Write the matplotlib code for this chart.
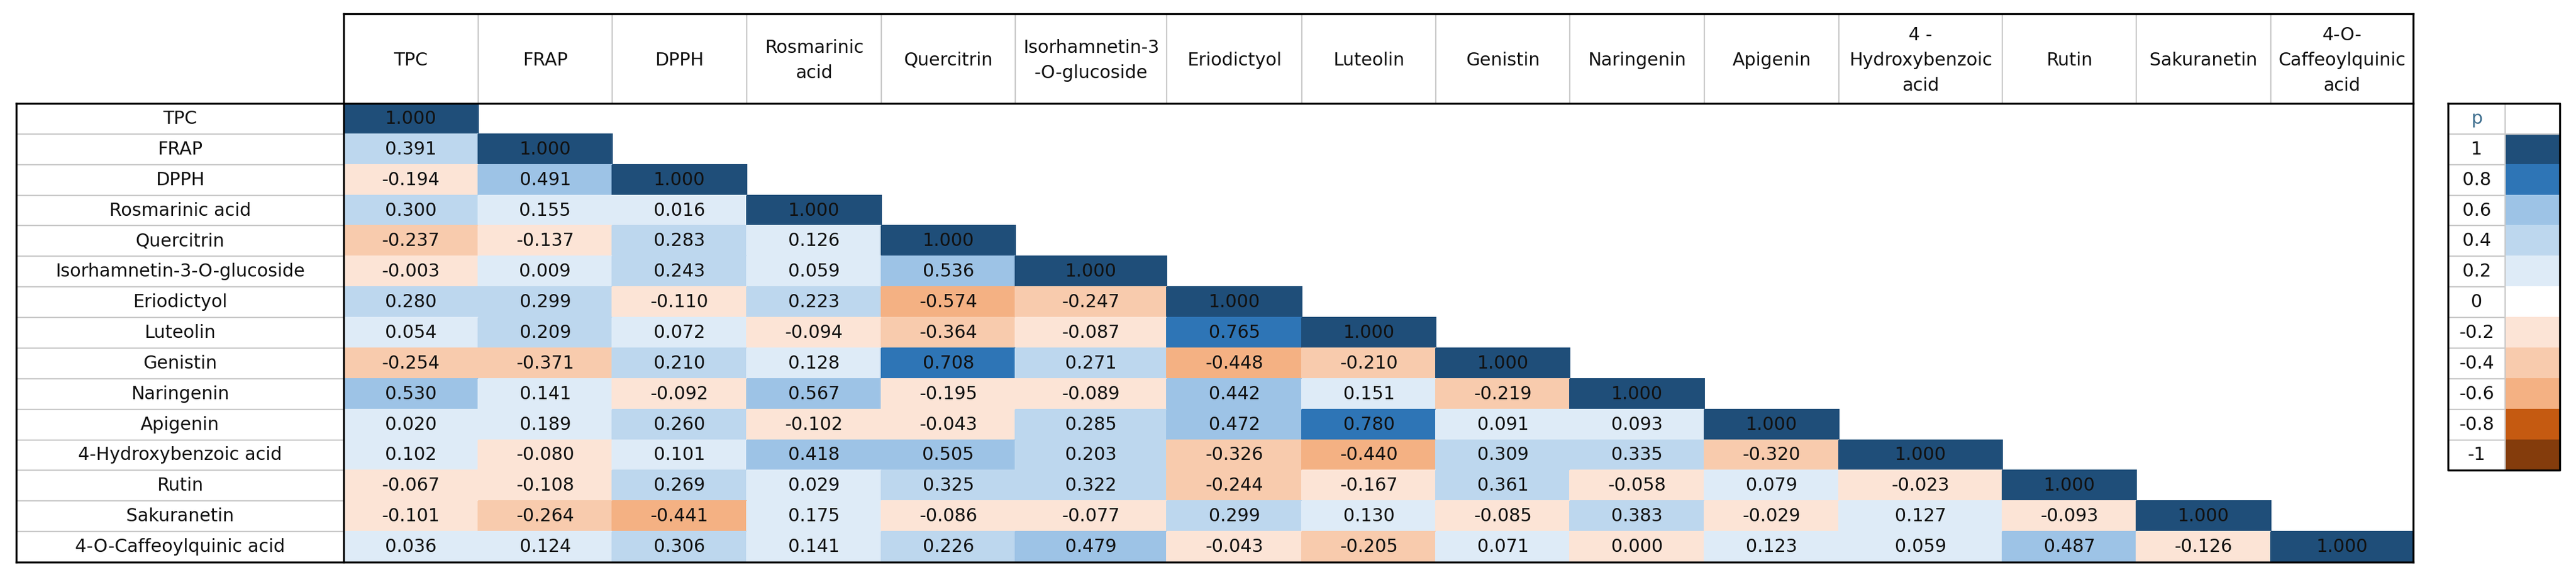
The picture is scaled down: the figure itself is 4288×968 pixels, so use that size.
import matplotlib
matplotlib.use("Agg")
import matplotlib.pyplot as plt
import numpy as np
from matplotlib.colors import ListedColormap

plt.rcParams["font.family"] = ["DejaVu Sans"]

row_labels = [
    "TPC", "FRAP", "DPPH", "Rosmarinic acid", "Quercitrin",
    "Isorhamnetin-3-O-glucoside", "Eriodictyol", "Luteolin", "Genistin",
    "Naringenin", "Apigenin", "4-Hydroxybenzoic acid", "Rutin",
    "Sakuranetin", "4-O-Caffeoylquinic acid",
]
col_labels = [
    "TPC", "FRAP", "DPPH", "Rosmarinic\nacid", "Quercitrin",
    "Isorhamnetin-3\n-O-glucoside", "Eriodictyol", "Luteolin", "Genistin",
    "Naringenin", "Apigenin", "4 -\nHydroxybenzoic\nacid", "Rutin",
    "Sakuranetin", "4-O-\nCaffeoylquinic\nacid",
]

# lower triangle of the correlation matrix, one list per row
corr_rows = [
    [1.000],
    [0.391, 1.000],
    [-0.194, 0.491, 1.000],
    [0.300, 0.155, 0.016, 1.000],
    [-0.237, -0.137, 0.283, 0.126, 1.000],
    [-0.003, 0.009, 0.243, 0.059, 0.536, 1.000],
    [0.280, 0.299, -0.110, 0.223, -0.574, -0.247, 1.000],
    [0.054, 0.209, 0.072, -0.094, -0.364, -0.087, 0.765, 1.000],
    [-0.254, -0.371, 0.210, 0.128, 0.708, 0.271, -0.448, -0.210, 1.000],
    [0.530, 0.141, -0.092, 0.567, -0.195, -0.089, 0.442, 0.151, -0.219, 1.000],
    [0.020, 0.189, 0.260, -0.102, -0.043, 0.285, 0.472, 0.780, 0.091, 0.093,
     1.000],
    [0.102, -0.080, 0.101, 0.418, 0.505, 0.203, -0.326, -0.440, 0.309, 0.335,
     -0.320, 1.000],
    [-0.067, -0.108, 0.269, 0.029, 0.325, 0.322, -0.244, -0.167, 0.361, -0.058,
     0.079, -0.023, 1.000],
    [-0.101, -0.264, -0.441, 0.175, -0.086, -0.077, 0.299, 0.130, -0.085,
     0.383, -0.029, 0.127, -0.093, 1.000],
    [0.036, 0.124, 0.306, 0.141, 0.226, 0.479, -0.043, -0.205, 0.071, 0.000,
     0.123, 0.059, 0.487, -0.126, 1.000],
]

# colour bins (right-closed) used for the cells
bin_levels = [-1.0, -0.8, -0.6, -0.4, -0.2, 0.0, 0.2, 0.4, 0.6, 0.8, 1.0]
bin_colors = ["#843C0C", "#C55A11", "#F4B183", "#F8CBAD", "#FCE4D6",
              "#DEEBF7", "#BDD7EE", "#9DC3E6", "#2E75B6", "#1F4E79"]

legend_title = "p"
legend_labels = ["1", "0.8", "0.6", "0.4", "0.2", "0",
                 "-0.2", "-0.4", "-0.6", "-0.8", "-1"]
legend_colors = ["#1F4E79", "#2E75B6", "#9DC3E6", "#BDD7EE", "#DEEBF7",
                 "#FFFFFF", "#FCE4D6", "#F8CBAD", "#F4B183", "#C55A11",
                 "#843C0C"]

# layout, in pixels of the output image
W, H = 4288, 968
label_x0 = 27
table_x0 = 572
head_top = 23
head_bottom = 172
table_bottom = 935
col_widths = [224, 223, 224, 224, 223, 252, 225, 223, 223, 224, 224, 272,
              223, 224, 237]
leg_x0, leg_split, leg_x1 = 4075, 4170, 4261

thick = dict(color="black", lw=2.4, solid_capstyle="projecting", zorder=5)
thin = dict(color="#C9C9C9", lw=1.6, zorder=4)
fs = 21.5

n = len(row_labels)
corr = np.full((n, n), np.nan)
for i, vals in enumerate(corr_rows):
    corr[i, :len(vals)] = vals

x_edges = table_x0 + np.concatenate([[0], np.cumsum(col_widths)])
y_edges = np.linspace(head_bottom, table_bottom, n + 1)
row_h = y_edges[1] - y_edges[0]
x_mid = (x_edges[:-1] + x_edges[1:]) / 2
y_mid = (y_edges[:-1] + y_edges[1:]) / 2
table_x1 = x_edges[-1]

bins = np.searchsorted(bin_levels, np.nan_to_num(corr), side="left") - 1
bins = np.clip(bins, 0, len(bin_colors) - 1)
bins = np.ma.masked_where(np.isnan(corr), bins)

fig = plt.figure(figsize=(W / 100, H / 100), dpi=100)
ax = fig.add_axes([0, 0, 1, 1])
ax.set_xlim(0, W)
ax.set_ylim(H, 0)
ax.axis("off")

ax.pcolormesh(x_edges, y_edges, bins, cmap=ListedColormap(bin_colors),
              vmin=-0.5, vmax=len(bin_colors) - 0.5, edgecolors="face",
              linewidth=0.3)

for i in range(n):
    for j in range(i + 1):
        ax.text(x_mid[j], y_mid[i], f"{corr[i, j]:.3f}", ha="center",
                va="center", fontsize=fs, color="#111111", zorder=6)

# header
head_mid = (head_top + head_bottom) / 2 + 3
for j, lab in enumerate(col_labels):
    ax.text(x_mid[j], head_mid, lab, ha="center", va="center",
            multialignment="center", linespacing=1.55, fontsize=fs,
            color="#111111")
ax.vlines(x_edges[1:-1], head_top, head_bottom, **thin)

# row labels
label_mid = (label_x0 + table_x0) / 2
for i, lab in enumerate(row_labels):
    ax.text(label_mid, y_mid[i], lab, ha="center", va="center", fontsize=fs,
            color="#111111")
ax.hlines(y_edges[1:-1], label_x0, table_x0, **thin)

# outer frame
ax.plot([table_x0, table_x1], [head_top, head_top], **thick)
ax.plot([label_x0, table_x1], [head_bottom, head_bottom], **thick)
ax.plot([label_x0, table_x1], [table_bottom, table_bottom], **thick)
ax.plot([label_x0, label_x0], [head_bottom, table_bottom], **thick)
ax.plot([table_x0, table_x0], [head_top, table_bottom], **thick)
ax.plot([table_x1, table_x1], [head_top, table_bottom], **thick)

# legend
nl = len(legend_labels)
leg_y = head_bottom + row_h * np.arange(nl + 2)
leg_top, leg_bottom = leg_y[0], leg_y[-1]
ax.pcolormesh([leg_split, leg_x1], leg_y[1:], np.arange(nl).reshape(-1, 1),
              cmap=ListedColormap(legend_colors), vmin=-0.5, vmax=nl - 0.5,
              edgecolors="face", linewidth=0.3)
ax.vlines(leg_split, leg_top, leg_bottom, **thin)
ax.hlines(leg_y[1:-1], leg_x0, leg_split, **thin)
ax.hlines(leg_y[1], leg_split, leg_x1, **thin)
lx = (leg_x0 + leg_split) / 2
ax.text(lx, (leg_y[0] + leg_y[1]) / 2, legend_title, ha="center",
        va="center", fontsize=fs, color="#3F6F8F")
for k, lab in enumerate(legend_labels):
    ax.text(lx, (leg_y[k + 1] + leg_y[k + 2]) / 2, lab, ha="center",
            va="center", fontsize=fs, color="#111111")
ax.plot([leg_x0, leg_x1, leg_x1, leg_x0, leg_x0],
        [leg_top, leg_top, leg_bottom, leg_bottom, leg_top], **thick)

fig.savefig("out.png", dpi=100)
